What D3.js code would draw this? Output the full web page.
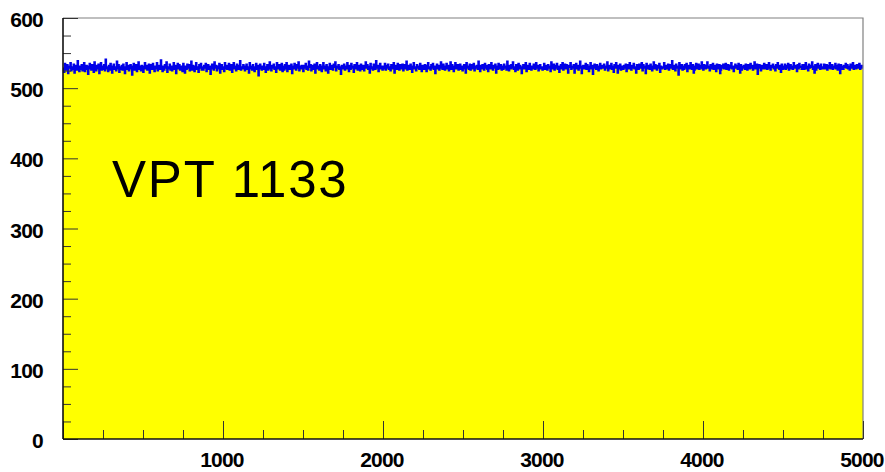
<!DOCTYPE html>
<html>
<head>
<meta charset="utf-8">
<script src="https://cdn.jsdelivr.net/npm/d3@7"></script>
<style>
  body { margin: 0; background: #fff; }
  svg { display: block; }
  .tick-label { font-family: 'Liberation Sans', Arial, sans-serif; font-weight: bold; font-size: 21px; letter-spacing: -0.8px; fill: #000; }
</style>
</head>
<body>
<div id="chart-area"></div>
<script>
// histogram contents, 1000 bins across 0..5000
const counts = [
  528,523,535,530,526,533,521,529,531,536,525,530,527,534,522,528,532,526,539,529,524,531,527,533,525,
  530,536,524,529,532,527,520,531,535,528,526,533,529,523,537,530,525,532,528,534,521,529,536,526,531,
  527,533,525,541,528,530,524,532,526,535,529,522,531,534,527,530,525,538,528,533,523,530,527,532,526,
  534,529,521,530,536,527,532,525,529,533,528,519,531,535,526,530,533,524,529,537,527,531,525,532,528,
  523,531,536,528,532,526,530,534,522,529,533,527,535,530,524,531,528,536,525,530,532,527,540,529,524,
  531,526,533,529,537,523,530,528,534,526,531,525,529,536,527,532,521,530,535,528,533,526,529,531,524,
  535,528,522,531,527,534,529,533,525,530,538,526,532,528,524,531,536,527,530,523,533,529,535,526,530,
  526,532,529,535,524,530,533,527,531,520,528,534,530,526,537,529,532,525,531,528,535,522,530,533,527,
  530,524,536,528,532,527,531,535,526,529,533,523,530,536,528,531,525,534,529,527,532,539,526,530,528,
  533,529,525,531,534,527,530,522,536,528,531,526,533,530,524,529,535,527,532,518,530,534,528,526,531,
  527,535,530,523,529,533,526,531,537,528,525,532,529,534,527,530,523,536,531,528,533,526,530,535,524,
  531,526,533,528,536,524,530,532,527,529,534,521,531,528,535,530,526,533,529,537,525,531,528,532,530,
  524,532,529,535,527,531,526,538,530,533,525,529,532,527,534,522,530,536,528,531,526,533,529,524,531,
  536,528,531,525,533,529,522,530,535,527,532,528,526,534,530,537,525,531,529,533,527,530,520,532,528,
  529,534,526,531,528,536,530,524,532,527,535,529,531,523,533,528,530,536,526,532,529,525,534,530,527,
  532,525,530,537,529,533,527,531,522,535,528,530,526,534,531,527,539,529,532,524,530,535,528,531,526,
  528,531,535,526,532,529,534,527,530,525,533,531,528,536,522,530,532,527,535,529,526,533,530,528,534,
  525,533,528,531,538,526,530,532,527,534,529,523,531,536,528,530,525,533,529,531,527,535,530,524,532,
  531,527,533,529,524,532,536,528,530,526,533,529,535,527,531,521,530,534,528,532,526,530,537,529,527,
  534,529,526,531,535,528,532,525,530,537,527,533,529,524,531,536,528,530,533,526,529,534,527,531,525,
  528,533,530,522,536,529,531,527,534,526,530,533,528,535,525,531,529,532,527,538,530,524,532,528,533,
  530,526,535,529,532,527,524,533,531,528,536,530,526,532,529,534,522,531,527,535,530,528,533,526,531,
  527,534,529,531,526,538,530,525,532,528,533,529,537,527,530,524,533,531,526,535,528,532,529,521,530,
  533,528,531,536,524,530,532,527,535,529,526,531,528,534,530,527,536,529,532,525,531,533,528,530,526,
  529,535,527,532,530,526,533,529,531,524,537,528,530,534,526,532,529,535,527,531,523,530,533,528,536,
  526,531,534,528,533,529,522,532,530,536,527,531,529,533,522,530,535,528,532,526,529,538,530,521,531,
  532,528,530,535,527,533,529,524,531,536,528,532,520,530,534,529,527,533,531,525,530,535,528,532,529,
  530,534,526,531,529,537,525,532,528,530,535,527,531,523,533,529,536,530,522,532,528,534,526,531,529,
  527,532,529,534,524,530,533,528,536,531,526,532,529,535,528,530,522,533,531,527,534,529,530,536,525,
  533,529,531,521,535,528,532,530,527,534,529,525,531,537,528,533,530,526,532,529,535,523,531,528,530,
  529,536,527,532,530,528,534,526,531,533,529,539,527,530,532,525,534,529,531,519,536,530,528,533,526,
  531,527,533,529,535,524,530,532,528,536,530,527,533,522,526,531,535,528,530,534,527,532,529,537,528,
  526,533,530,528,532,537,529,531,525,533,528,530,535,527,532,529,524,534,531,528,533,521,526,532,529,
  534,528,531,535,527,530,533,526,532,529,536,528,531,524,530,534,529,532,527,535,530,522,533,526,531,
  529,532,527,534,530,526,533,531,528,535,529,532,526,530,537,528,531,534,520,530,533,529,525,532,528,
  531,535,528,530,533,527,529,536,531,526,532,530,534,528,531,525,533,529,536,530,527,532,523,534,527,
  528,531,534,527,532,529,535,526,530,533,528,531,527,536,529,532,530,524,533,528,535,530,531,527,533,
  533,527,530,536,528,531,525,534,529,532,530,537,527,531,522,533,526,530,535,529,532,527,534,530,528,
  530,534,528,531,533,526,532,529,536,528,530,533,527,531,529,535,528,532,526,534,530,521,533,531,527,
  527,532,530,535,529,533,528,531,526,534,530,529,536,527,532,530,528,533,531,529,535,527,530,532,529
]

const xRange = [0, 5000]
const yRange = [0, 600]
const xTickLabels = [1000, 2000, 3000, 4000, 5000]
const yTickLabels = [0, 100, 200, 300, 400, 500, 600]
const title = 'VPT 1133'

const margin = {
    bottom: 33,
    left: 63,
    right: 22,
    top: 18
}

const width = 885 - margin.left - margin.right
const height = 472 - margin.top - margin.bottom

const svg = d3.select('#chart-area')
              .append('svg')
              .attr('width', width + margin.left + margin.right)
              .attr('height', height + margin.top + margin.bottom)

const g = svg.append('g')
             .attr('transform', 'translate(' + margin.left + ',' + margin.top + ')')

const x = d3.scaleLinear()
            .domain(xRange)
            .range([0, width])

const y = d3.scaleLinear()
            .domain(yRange)
            .range([height, 0])

// bin edges: each count sits on its own bin, plus a closing point at the end
const binWidth = (xRange[1] - xRange[0]) / counts.length
const bins = counts.map((c, i) => ({ lo: xRange[0] + i * binWidth, v: c }))
bins.push({ lo: xRange[1], v: counts[counts.length - 1] })

// FILL
const area = d3.area()
               .curve(d3.curveStepAfter)
               .x(d => x(d.lo))
               .y0(y(0))
               .y1(d => y(d.v))

g.append('path')
 .datum(bins)
 .attr('fill', '#ffff00')
 .attr('d', area)

// OUTLINE
const line = d3.line()
               .curve(d3.curveStepAfter)
               .x(d => x(d.lo))
               .y(d => y(d.v))

g.append('path')
 .datum(bins)
 .attr('fill', 'none')
 .attr('stroke', '#0000e8')
 .attr('stroke-width', 1.8)
 .attr('d', line)

// FRAME (top and right)
g.append('path')
 .attr('d', 'M0,0H' + width + 'V' + height)
 .attr('fill', 'none')
 .attr('stroke', '#808080')
 .attr('stroke-width', 1.2)

// Y AXIS, ticks pointing inwards, minor every 25
const yAxisCall = d3.axisRight(y)
                    .tickValues(d3.range(yRange[0], yRange[1] + 1, 25))
                    .tickSize(8)
                    .tickFormat('')
const yAxis = g.append('g')
               .attr('class', 'y-axis')
               .call(yAxisCall)
yAxis.selectAll('.tick line')
     .attr('x2', d => d % 100 === 0 ? 15 : 8)
     .attr('stroke', '#333')
yAxis.select('.domain').remove()

// X AXIS, ticks pointing inwards, minor every 250
const xAxisCall = d3.axisTop(x)
                    .tickValues(d3.range(xRange[0], xRange[1] + 1, 250))
                    .tickSize(9)
                    .tickFormat('')
const xAxis = g.append('g')
               .attr('class', 'x-axis')
               .attr('transform', 'translate(0,' + height + ')')
               .call(xAxisCall)
xAxis.selectAll('.tick line')
     .attr('y2', d => d % 1000 === 0 ? -18 : -9)
     .attr('stroke', '#333')
xAxis.select('.domain').remove()

// axis lines
g.append('line')
 .attr('x1', 0).attr('x2', 0)
 .attr('y1', 0).attr('y2', height)
 .attr('stroke', '#111')
 .attr('stroke-width', 1.6)

g.append('line')
 .attr('x1', 0).attr('x2', width)
 .attr('y1', height).attr('y2', height)
 .attr('stroke', '#111')
 .attr('stroke-width', 1.6)

// TICK LABELS
g.selectAll('.y-label')
 .data(yTickLabels)
 .enter()
 .append('text')
 .attr('class', 'tick-label')
 .attr('x', -20)
 .attr('y', d => y(d) + 9)
 .attr('text-anchor', 'end')
 .text(d => d)

g.selectAll('.x-label')
 .data(xTickLabels)
 .enter()
 .append('text')
 .attr('class', 'tick-label')
 .attr('x', d => x(d) - 1)
 .attr('y', height + 27.5)
 .attr('text-anchor', 'middle')
 .text(d => d)

// LABEL
svg.append('text')
   .attr('x', 112)
   .attr('y', 197)
   .attr('font-family', 'Liberation Sans, Arial, sans-serif')
   .attr('font-size', '51px')
   .attr('letter-spacing', '1.8px')
   .attr('fill', '#000')
   .text(title)
</script>
</body>
</html>
